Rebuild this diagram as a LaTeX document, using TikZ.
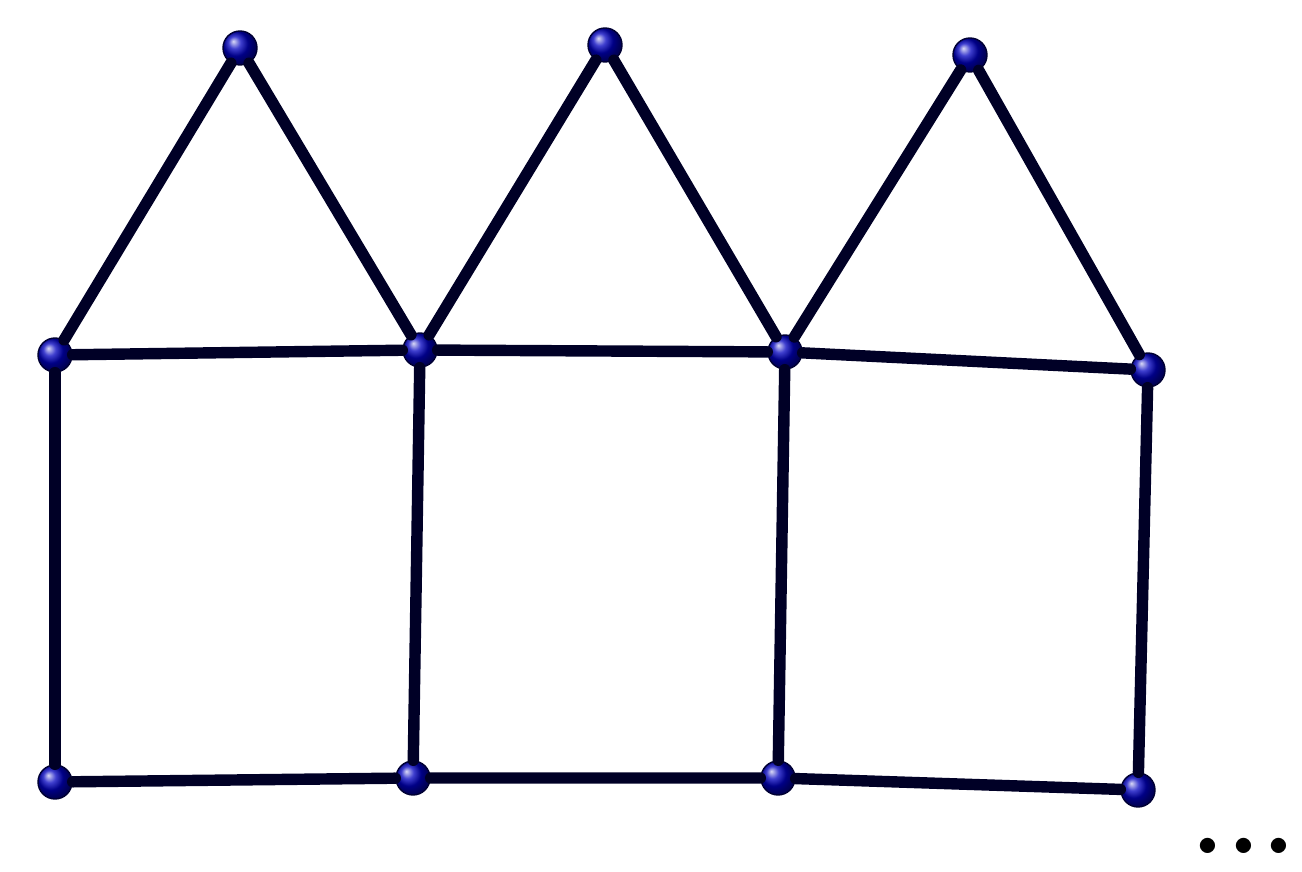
\documentclass[tikz,border=0pt]{standalone}
\usepackage{fontspec}
\tikzset{
  vtx/.style={circle, inner sep=0pt, minimum size=0.68cm, draw=black!80!blue, line width=0.8pt, shading=ball, ball color=blue!75!black},
  edge/.style={line width=6.5pt, draw=black!85!blue, line cap=round}
}
\begin{document}
\begin{tikzpicture}
\useasboundingbox (0,0) rectangle (26.04,17.44);
% roof tops
\node[vtx] (t1) at (4.80,16.48) {};
\node[vtx] (t2) at (12.10,16.54) {};
\node[vtx] (t3) at (19.40,16.34) {};
% middle row
\node[vtx] (m1) at (1.10,10.34) {};
\node[vtx] (m2) at (8.40,10.44) {};
\node[vtx] (m3) at (15.70,10.40) {};
\node[vtx] (m4) at (22.96,10.04) {};
% bottom row
\node[vtx] (b1) at (1.10,1.80) {};
\node[vtx] (b2) at (8.26,1.88) {};
\node[vtx] (b3) at (15.56,1.88) {};
\node[vtx] (b4) at (22.76,1.64) {};
% triangles
\draw[edge] (m1) -- (t1) -- (m2) -- (t2) -- (m3) -- (t3) -- (m4);
% squares
\draw[edge] (m1) -- (m2) -- (m3) -- (m4);
\draw[edge] (b1) -- (b2) -- (b3) -- (b4);
\draw[edge] (m1) -- (b1);
\draw[edge] (m2) -- (b2);
\draw[edge] (m3) -- (b3);
\draw[edge] (m4) -- (b4);
\node[anchor=base west, inner sep=0pt] (dots) at (23.83,0.36) {\fontsize{60}{64}\selectfont\bfseries .\kern1.3pt.\kern1.3pt.};
\end{tikzpicture}
\end{document}
